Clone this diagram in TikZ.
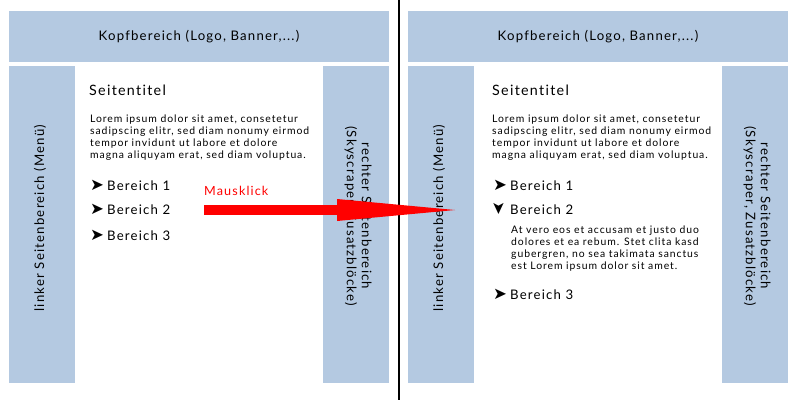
\documentclass[tikz,border=0pt]{standalone}
\usepackage{fontspec}
\usepackage{graphicx}
\setmainfont{Lato}[LetterSpace=9,Ligatures=NoCommon]
\newfontfamily\symbolschrift{DejaVu Sans}
\usetikzlibrary{arrows.meta}
\definecolor{seitenblau}{RGB}{180,201,225}
\newcommand{\zu}{\makebox[17pt][l]{\scalebox{1.25}{\symbolschrift ➤}}}
\newcommand{\auf}{\makebox[17pt][l]{\rotatebox[origin=c]{-90}{\scalebox{1.25}{\symbolschrift ➤}}}}

\begin{document}
\begin{tikzpicture}[x=1pt,y=-1pt]
	\tikzset{flaeche/.style = {fill=seitenblau, inner sep=0pt, outer sep=0pt}}
	\tikzset{kopf/.style = {flaeche, minimum width=380pt, minimum height=51pt,
			font=\fontsize{13.2}{15}\selectfont}}
	\tikzset{leiste/.style = {flaeche, minimum width=66pt, minimum height=317pt}}
	\tikzset{leistentext/.style = {align=center, inner sep=0pt,
			font=\fontsize{13.2}{15}\selectfont}}
	\tikzset{titel/.style = {anchor=base west, inner sep=0pt,
			font=\fontsize{14.3}{17}\selectfont}}
	\tikzset{fliesstext/.style = {anchor=base west, align=left, inner sep=0pt,
			font=\fontsize{10.4}{12}\selectfont}}
	\tikzset{bereich/.style = {anchor=base west, inner sep=0pt,
			font=\fontsize{13.2}{15}\selectfont}}
	\tikzset{klick/.style = {line width=10pt, red,
			-{Triangle[length=118pt,width=22pt,line width=0pt]}}}
	\useasboundingbox (0,0) rectangle (800,400);
    % linke seite
    \node[kopf] (kopfA) at (199,36.5) {Kopfbereich (Logo, Banner,...)};
    \node[leiste] (linksA) at (42,224.5) {};
    \node[leiste] (rechtsA) at (356,224.5) {};
    \node[leistentext, rotate=90] (linksAtext) at (40,218) {linker Seitenbereich (Menü)};
    \node[leistentext, rotate=-90] (rechtsAtext) at (358,216) {rechter Seitenbereich\\(Skyscraper, Zusatzblöcke)};
    \node[titel] (titelA) at (89,95) {Seitentitel};
    % anker der textbloecke: letzte zeile
    \node[fliesstext] (loremA) at (90,158) {Lorem ipsum dolor sit amet, consetetur\\sadipscing elitr, sed diam nonumy eirmod\\tempor invidunt ut labore et dolore\\magna aliquyam erat, sed diam voluptua.};
    \node[bereich] (bereichA1) at (90,190) {\zu Bereich 1};
    \node[bereich] (bereichA2) at (90,214) {\zu Bereich 2};
    \node[bereich] (bereichA3) at (90,240) {\zu Bereich 3};
    % rechte seite
    \node[kopf] (kopfB) at (598,36.5) {Kopfbereich (Logo, Banner,...)};
    \node[leiste] (linksB) at (441,224.5) {};
    \node[leiste] (rechtsB) at (755,224.5) {};
    \node[leistentext, rotate=90] (linksBtext) at (439,218) {linker Seitenbereich (Menü)};
    \node[leistentext, rotate=-90] (rechtsBtext) at (757,216) {rechter Seitenbereich\\(Skyscraper, Zusatzblöcke)};
    \node[titel] (titelB) at (492,95) {Seitentitel};
    \node[fliesstext] (loremB) at (492,158) {Lorem ipsum dolor sit amet, consetetur\\sadipscing elitr, sed diam nonumy eirmod\\tempor invidunt ut labore et dolore\\magna aliquyam erat, sed diam voluptua.};
    \node[bereich] (bereichB1) at (493,190) {\zu Bereich 1};
    \node[bereich] (bereichB2) at (493,214) {\auf Bereich 2};
    \node[fliesstext] (verob) at (511,269) {At vero eos et accusam et justo duo\\dolores et ea rebum. Stet clita kasd\\gubergren, no sea takimata sanctus\\est Lorem ipsum dolor sit amet.};
    \node[bereich] (bereichB3) at (493,299) {\zu Bereich 3};
    % trennlinie
    \coordinate (trennoben) at (398.5,0);
    \coordinate (trennunten) at (398.5,400);
    \draw[line width=2pt] (trennoben) -- (trennunten);
    % mausklick
    \coordinate (klickstart) at (204,210);
    \coordinate (klickende) at (455,210);
    \node[bereich, red, font=\fontsize{12.6}{15}\selectfont] (klicktext) at (204,195) {Mausklick};
    \draw[klick] (klickstart) -- (klickende);
\end{tikzpicture}
\end{document}
